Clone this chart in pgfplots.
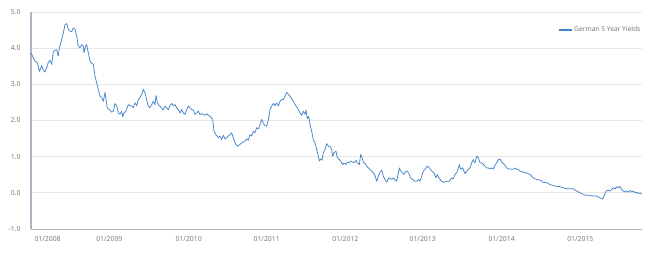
\documentclass[border=0pt]{standalone}
\usepackage{pgfplots}
\pgfplotsset{compat=1.18}
\usepackage{pgfplotstable}
\usepackage{fontspec}
\setmainfont{Open Sans}
\definecolor{ser}{HTML}{4582C8}
\definecolor{gridc}{HTML}{E6E6E6}
\definecolor{axc}{HTML}{AEB4C2}
\definecolor{txt}{HTML}{707070}
% u = horizontal position (235.4 units per year, 0 = 01/2008), y = yield in %
\pgfplotstableread{
u y
0 3.87
7 3.73
12 3.64
17 3.62
22 3.50
25 3.36
29 3.44
32 3.52
37 3.39
42 3.34
47 3.46
52 3.61
57 3.67
62 3.55
67 3.90
72 3.94
77 3.96
82 3.78
85 4.01
92 4.24
97 4.42
102 4.65
107 4.68
112 4.52
117 4.47
122 4.45
127 4.56
132 4.52
137 4.33
142 4.06
147 4.01
152 4.10
157 4.06
159 3.87
164 4.06
167 4.10
172 3.87
177 3.64
182 3.59
187 3.55
192 3.23
197 3.04
202 2.86
207 2.67
212 2.63
217 2.53
222 2.78
225 2.58
229 2.35
235 2.30
242 2.23
247 2.26
252 2.47
257 2.41
262 2.21
267 2.17
272 2.26
275 2.10
279 2.21
285 2.26
292 2.44
297 2.41
302 2.40
307 2.35
312 2.49
317 2.41
322 2.58
327 2.63
332 2.72
337 2.86
342 2.76
347 2.58
352 2.40
357 2.35
362 2.44
367 2.53
372 2.44
375 2.69
379 2.49
385 2.41
392 2.35
397 2.29
402 2.40
407 2.35
412 2.30
417 2.41
422 2.47
427 2.41
432 2.44
437 2.35
442 2.30
447 2.21
452 2.30
457 2.21
462 2.17
467 2.30
472 2.40
477 2.35
482 2.30
487 2.29
492 2.17
497 2.21
502 2.26
507 2.16
512 2.19
517 2.17
522 2.14
527 2.19
532 2.14
537 2.12
545 2.03
549 1.70
555 1.61
562 1.52
567 1.57
572 1.47
577 1.59
582 1.49
587 1.52
592 1.57
597 1.61
602 1.66
607 1.52
612 1.38
619 1.29
627 1.34
635 1.40
642 1.43
647 1.49
652 1.46
657 1.61
662 1.57
667 1.70
672 1.66
677 1.80
682 1.77
687 1.89
692 2.03
697 1.92
702 1.86
707 1.84
712 2.03
717 2.30
722 2.40
727 2.47
732 2.41
737 2.49
742 2.40
747 2.53
752 2.58
757 2.58
762 2.67
767 2.78
772 2.72
777 2.67
782 2.60
787 2.53
792 2.44
797 2.38
802 2.30
807 2.21
812 2.14
817 2.26
822 2.17
825 2.29
829 2.05
833 2.12
837 1.89
842 1.70
847 1.47
852 1.38
857 1.20
862 1.01
865 0.88
869 0.94
873 0.90
877 1.11
882 1.20
887 1.36
892 1.29
897 1.29
902 1.20
905 1.01
909 1.11
915 1.15
919 0.97
925 0.92
929 0.88
935 0.78
939 0.83
945 0.78
949 0.85
955 0.83
959 0.88
965 0.85
969 0.83
975 0.90
979 0.83
985 0.78
989 1.06
993 0.97
997 0.85
1002 0.81
1007 0.74
1012 0.69
1017 0.65
1022 0.60
1027 0.55
1032 0.48
1037 0.32
1042 0.46
1047 0.57
1052 0.63
1057 0.46
1062 0.37
1067 0.29
1072 0.39
1077 0.41
1082 0.37
1087 0.41
1092 0.37
1097 0.32
1102 0.55
1105 0.69
1109 0.60
1115 0.55
1119 0.51
1125 0.60
1129 0.60
1135 0.51
1139 0.41
1145 0.37
1152 0.32
1157 0.32
1162 0.37
1167 0.32
1172 0.46
1177 0.60
1182 0.65
1189 0.74
1195 0.69
1202 0.60
1209 0.55
1215 0.41
1219 0.51
1225 0.39
1232 0.32
1239 0.29
1247 0.32
1255 0.32
1262 0.41
1267 0.39
1272 0.51
1277 0.55
1282 0.69
1285 0.78
1289 0.65
1295 0.69
1302 0.53
1307 0.60
1312 0.65
1317 0.69
1322 0.83
1327 0.92
1332 0.83
1337 1.01
1342 0.97
1347 0.83
1352 0.83
1357 0.78
1362 0.74
1367 0.69
1372 0.69
1377 0.66
1382 0.69
1387 0.66
1392 0.76
1397 0.83
1402 0.92
1407 0.94
1412 0.85
1417 0.81
1422 0.76
1427 0.69
1432 0.66
1437 0.66
1447 0.65
1452 0.69
1457 0.65
1462 0.65
1467 0.60
1477 0.57
1487 0.55
1497 0.51
1507 0.41
1517 0.37
1527 0.35
1537 0.29
1547 0.28
1557 0.23
1567 0.20
1577 0.18
1587 0.17
1597 0.14
1607 0.11
1617 0.11
1627 0.11
1637 0.05
1647 0.00
1657 -0.05
1667 -0.07
1677 -0.07
1687 -0.09
1697 -0.09
1707 -0.14
1715 -0.17
1720 -0.07
1725 0.05
1732 0.07
1737 0.05
1742 0.09
1747 0.14
1752 0.11
1757 0.17
1762 0.14
1767 0.18
1772 0.09
1777 0.05
1782 0.02
1787 0.05
1792 0.02
1797 0.07
1802 0.02
1807 0.05
1812 0.00
1817 0.02
1822 -0.02
1827 0.00
1832 -0.03
}\yields
\begin{document}
\begin{tikzpicture}
\useasboundingbox (0,0) rectangle (650bp,259bp);
\begin{axis}[
  at={(31bp,30bp)}, anchor=south west,
  scale only axis, width=611bp, height=217bp,
  xmin=0, xmax=1833, ymin=-1, ymax=5,
  axis x line*=bottom, axis y line*=left,
  axis line style={-},
  x axis line style={color=axc, line width=1bp},
  y axis line style={color=axc, line width=1.6bp},
  ytick={-1,0,1,2,3,4,5},
  yticklabels={-1.0,0.0,1.0,2.0,3.0,4.0,5.0},
  xtick={235,473,707,943,1175,1412,1648},
  xticklabels={01/2009,01/2010,01/2011,01/2012,01/2013,01/2014,01/2015},
  extra x ticks={0},
  extra x tick labels={01/2008},
  extra x tick style={xticklabel style={anchor=north west, xshift=0bp}},
  major tick length=0pt,
  tick style={draw=none},
  ymajorgrids, grid style={color=gridc, line width=0.8bp},
  ticklabel style={font=\fontsize{6.9}{7.5}\selectfont, text=txt},
  yticklabel style={xshift=-7bp},
  xticklabel style={yshift=-4bp},
  legend style={at={(1,0.917)}, anchor=east, draw=none, fill=none,
    font=\fontsize{6.7}{7.5}\selectfont, text=txt, inner sep=0pt,
    nodes={inner sep=1.5bp}},
  legend cell align=left,
  legend image code/.code={\draw[#1, line width=1.1bp] (0bp,0bp) -- (13bp,0bp);},
  clip=false,
]
\addplot[color=ser, line width=0.75bp, line join=round] table[x=u, y=y] {\yields};
\addlegendentry{German 5 Year Yields}
\end{axis}
\end{tikzpicture}
\end{document}
